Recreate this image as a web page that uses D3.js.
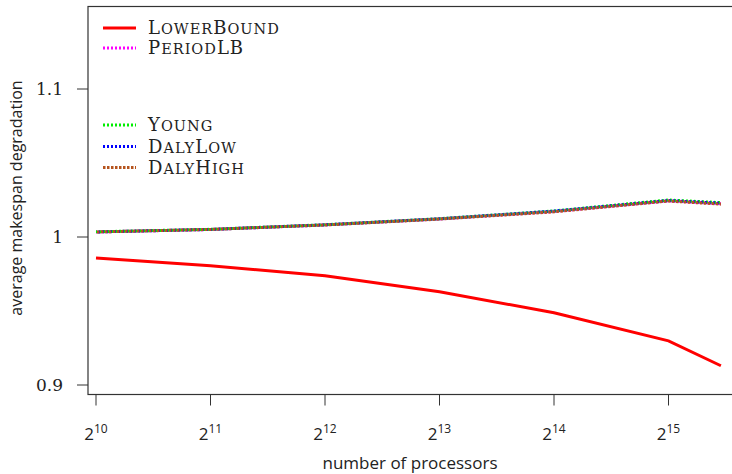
<!DOCTYPE html>
<html>
<head>
<meta charset="utf-8">
<script src="https://cdn.jsdelivr.net/npm/d3@7"></script>
<style>
  html, body { margin: 0; padding: 0; background: #fff; }
  svg { display: block; }
</style>
</head>
<body>
<svg id="chart" width="732" height="474"></svg>
<script>
// number of processors (log2 scale on the x axis)
const processors = [1024, 2048, 4096, 8192, 16384, 32768, 45000];
const xTickExponents = [10, 11, 12, 13, 14, 15];
const yTicks = [0.9, 1, 1.1];

// average makespan degradation per heuristic
const lowerBound = [0.9858, 0.9806, 0.9738, 0.9630, 0.9488, 0.9298, 0.9130];
const periodLB   = [1.0034, 1.0051, 1.0082, 1.0122, 1.0172, 1.0245, 1.0225];
const young      = [1.0035, 1.0052, 1.0083, 1.0124, 1.0176, 1.0250, 1.0232];
const dalyLow    = [1.0034, 1.0051, 1.0082, 1.0123, 1.0175, 1.0246, 1.0228];
const dalyHigh   = [1.0034, 1.0051, 1.0081, 1.0121, 1.0170, 1.0243, 1.0222];

const series = [
  { name: "LowerBound", values: lowerBound, color: "#ff0000", dash: null,  phase: 0 },
  { name: "PeriodLB",   values: periodLB,   color: "#ff00ff", dash: "2,2", phase: 0 },
  { name: "Young",      values: young,      color: "#00ee00", dash: "2,2", phase: 1 },
  { name: "DalyLow",    values: dalyLow,    color: "#0000ff", dash: "2,2", phase: 2 },
  { name: "DalyHigh",   values: dalyHigh,   color: "#b5541e", dash: "2.5,1.5", phase: 3 }
];

const svg = d3.select("#chart");

// log2 of processors mapped linearly onto the plot
const x = d3.scaleLinear().domain([10, 15]).range([96, 668.5]);
const y = d3.scaleLinear().domain([0.9, 1.1]).range([385, 89]);

const boxLeft = 88, boxTop = 6.5, boxBottom = 394.5, boxRight = 740;

// plot frame
svg.append("rect")
  .attr("x", boxLeft).attr("y", boxTop)
  .attr("width", boxRight - boxLeft).attr("height", boxBottom - boxTop)
  .attr("fill", "none").attr("stroke", "#333").attr("stroke-width", 1.2);

// y axis ticks and labels
const yAxis = svg.append("g");
yAxis.selectAll("line").data(yTicks).join("line")
  .attr("x1", boxLeft - 11).attr("x2", boxLeft)
  .attr("y1", d => y(d)).attr("y2", d => y(d))
  .attr("stroke", "#333").attr("stroke-width", 1);
yAxis.selectAll("text").data(yTicks).join("text")
  .attr("x", 63).attr("y", d => y(d) + 6)
  .attr("text-anchor", "end")
  .attr("font-family", "'DejaVu Serif', 'Liberation Serif', serif")
  .attr("font-size", 17)
  .attr("fill", "#222")
  .text(d => d3.format("")(d));

// x axis ticks and labels
const xAxis = svg.append("g");
xAxis.selectAll("line").data(xTickExponents).join("line")
  .attr("x1", d => x(d)).attr("x2", d => x(d))
  .attr("y1", boxBottom).attr("y2", boxBottom + 11)
  .attr("stroke", "#333").attr("stroke-width", 1);
const xl = xAxis.selectAll("text").data(xTickExponents).join("text")
  .attr("x", d => x(d)).attr("y", 440)
  .attr("text-anchor", "middle")
  .attr("font-family", "'Open Sans', 'DejaVu Sans', sans-serif")
  .attr("font-size", 17)
  .attr("fill", "#222");
xl.append("tspan").text("2");
xl.append("tspan").attr("dy", -7).attr("font-size", 12).text(d => d);

// axis titles
svg.append("text")
  .attr("x", 410).attr("y", 469)
  .attr("text-anchor", "middle")
  .attr("font-family", "'Open Sans', 'DejaVu Sans', sans-serif")
  .attr("font-size", 17).attr("fill", "#222")
  .text("number of processors");
svg.append("text")
  .attr("transform", "translate(22,198) rotate(-90)")
  .attr("text-anchor", "middle")
  .attr("font-family", "'Open Sans', 'DejaVu Sans', sans-serif")
  .attr("font-size", 16).attr("fill", "#222")
  .text("average makespan degradation");

// data lines
const line = d3.line()
  .x((d, i) => x(Math.log2(processors[i])))
  .y(d => y(d));

svg.append("g").selectAll("path").data(series).join("path")
  .attr("d", s => line(s.values))
  .attr("fill", "none")
  .attr("stroke", s => s.color)
  .attr("stroke-width", 3)
  .attr("stroke-dasharray", s => s.dash)
  .attr("stroke-dashoffset", s => s.phase);

// legends: two groups
const legendRows = [
  { s: series[0], y: 28 },
  { s: series[1], y: 48 },
  { s: series[2], y: 125 },
  { s: series[3], y: 146.5 },
  { s: series[4], y: 167.5 }
];
const lg = svg.append("g").selectAll("g").data(legendRows).join("g");
lg.append("line")
  .attr("x1", 103).attr("x2", 136)
  .attr("y1", d => d.y).attr("y2", d => d.y)
  .attr("stroke", d => d.s.color)
  .attr("stroke-width", 3)
  .attr("stroke-dasharray", d => d.s.dash);

// small-caps labels: capitals at full size, lower-case letters as smaller capitals
const lt = lg.append("text")
  .attr("x", 148).attr("y", d => d.y + 6)
  .attr("font-family", "'DejaVu Serif', 'Liberation Serif', serif")
  .attr("font-size", 18)
  .attr("letter-spacing", 1)
  .attr("fill", "#222");
lt.each(function(d) {
  const t = d3.select(this);
  const runs = [];
  for (const ch of d.s.name) {
    const small = ch !== ch.toUpperCase();
    const last = runs[runs.length - 1];
    if (last && last.small === small) last.text += ch;
    else runs.push({ small, text: ch });
  }
  runs.forEach(r => {
    t.append("tspan")
      .attr("font-size", r.small ? 14.5 : 18)
      .text(r.text.toUpperCase());
  });
});
</script>
</body>
</html>
